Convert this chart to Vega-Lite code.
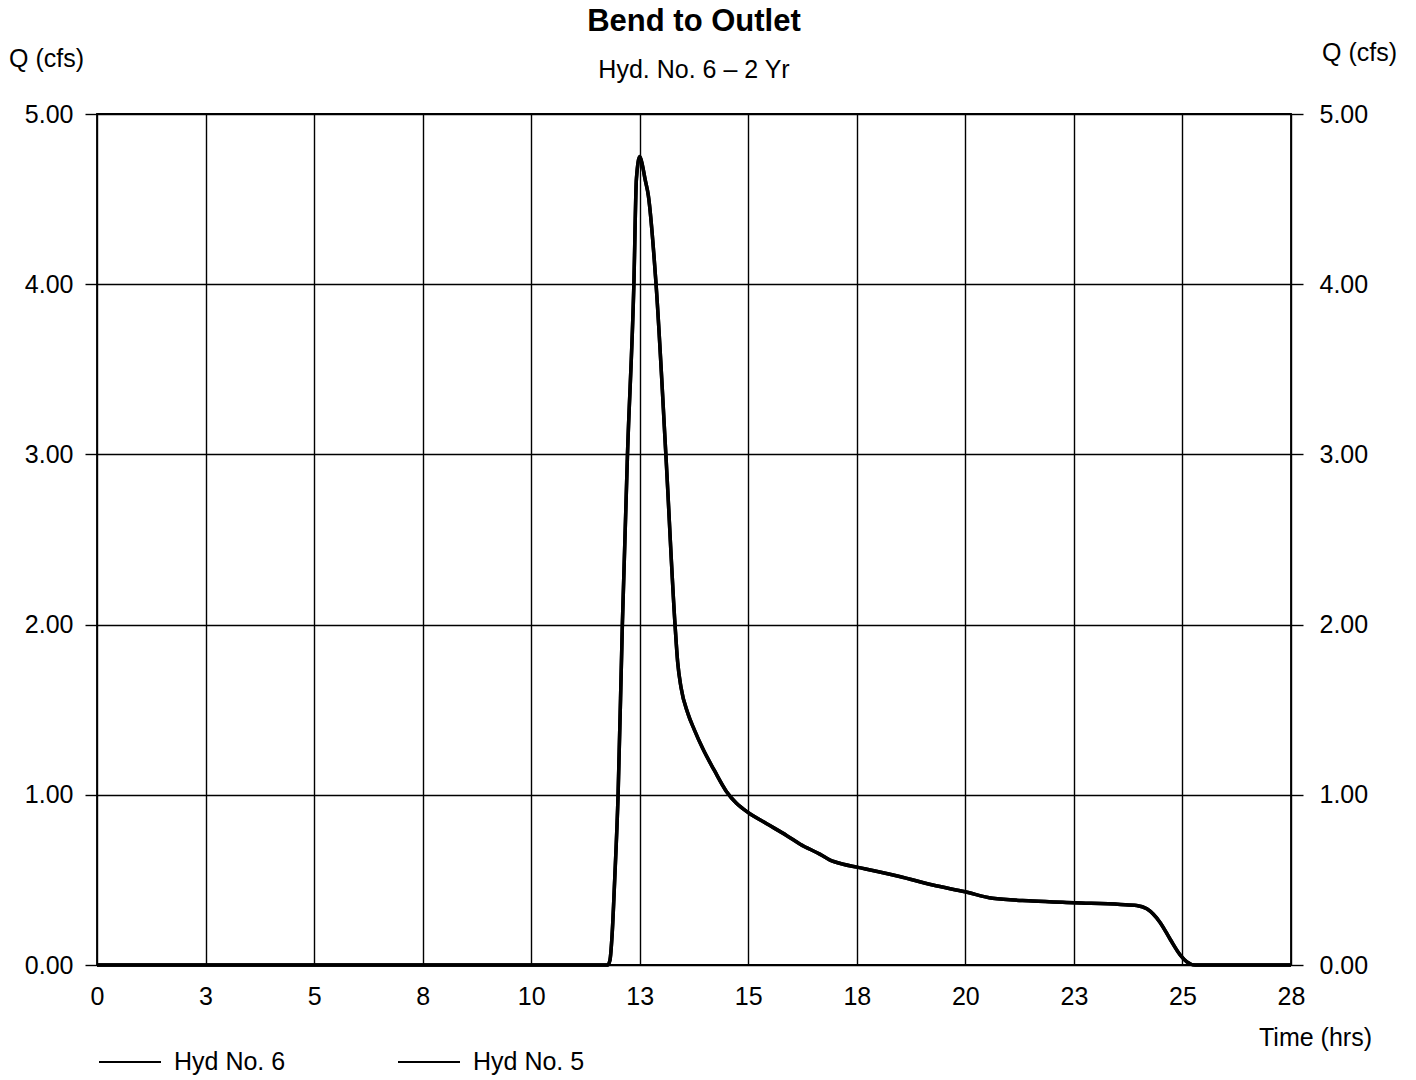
{
  "$schema": "https://vega.github.io/schema/vega-lite/v6.json",
  "width": 1194,
  "height": 851,
  "autosize": "none",
  "padding": {"left": 97, "top": 114, "right": 125, "bottom": 115},
  "background": "white",
  "config": {
    "font": "Liberation Sans",
    "view": {"stroke": "black", "strokeWidth": 1.8},
    "axis": {
      "labelColor": "black",
      "labelFontSize": 25,
      "labelFlush": false,
      "gridColor": "black",
      "gridOpacity": 1,
      "gridWidth": 1.4,
      "domain": false,
      "tickColor": "black",
      "tickWidth": 1.4,
      "titleColor": "black",
      "titleFontWeight": "normal",
      "titleFontSize": 25
    }
  },
  "title": {
    "text": "Bend to Outlet",
    "subtitle": "Hyd. No. 6 – 2 Yr",
    "anchor": "middle",
    "frame": "group",
    "fontSize": 31,
    "fontWeight": "bold",
    "color": "black",
    "subtitleFontSize": 25,
    "subtitleColor": "black",
    "subtitlePadding": 20,
    "offset": -44
  },
  "data": {
    "values": [
      {"t": 0, "h6": 0, "h5": 0},
      {"t": 2, "h6": 0, "h5": 0},
      {"t": 4, "h6": 0, "h5": 0},
      {"t": 6, "h6": 0, "h5": 0},
      {"t": 8, "h6": 0, "h5": 0},
      {"t": 10, "h6": 0, "h5": 0},
      {"t": 11, "h6": 0, "h5": 0},
      {"t": 11.98, "h6": 0, "h5": 0},
      {"t": 12.03, "h6": 0.03, "h5": 0.03},
      {"t": 12.08, "h6": 0.18, "h5": 0.18},
      {"t": 12.14, "h6": 0.5, "h5": 0.5},
      {"t": 12.22, "h6": 1.0, "h5": 1.0},
      {"t": 12.32, "h6": 2.0, "h5": 2.0},
      {"t": 12.44, "h6": 3.0, "h5": 3.0},
      {"t": 12.59, "h6": 4.0, "h5": 4.0},
      {"t": 12.65, "h6": 4.62, "h5": 4.62},
      {"t": 12.73, "h6": 4.75, "h5": 4.75},
      {"t": 12.79, "h6": 4.7, "h5": 4.7},
      {"t": 12.85, "h6": 4.62, "h5": 4.62},
      {"t": 12.93, "h6": 4.52, "h5": 4.52},
      {"t": 13.11, "h6": 4.0, "h5": 4.0},
      {"t": 13.34, "h6": 3.0, "h5": 3.0},
      {"t": 13.555, "h6": 2.0, "h5": 2.0},
      {"t": 13.617, "h6": 1.78, "h5": 1.78},
      {"t": 13.696, "h6": 1.63, "h5": 1.63},
      {"t": 13.854, "h6": 1.48, "h5": 1.48},
      {"t": 14.011, "h6": 1.38, "h5": 1.38},
      {"t": 14.208, "h6": 1.27, "h5": 1.27},
      {"t": 14.484, "h6": 1.14, "h5": 1.14},
      {"t": 14.76, "h6": 1.02, "h5": 1.02},
      {"t": 14.996, "h6": 0.95, "h5": 0.95},
      {"t": 15.273, "h6": 0.895, "h5": 0.895},
      {"t": 15.706, "h6": 0.83, "h5": 0.83},
      {"t": 16.178, "h6": 0.76, "h5": 0.76},
      {"t": 16.49, "h6": 0.71, "h5": 0.71},
      {"t": 16.96, "h6": 0.65, "h5": 0.65},
      {"t": 17.18, "h6": 0.618, "h5": 0.618},
      {"t": 17.5, "h6": 0.592, "h5": 0.592},
      {"t": 17.82, "h6": 0.575, "h5": 0.575},
      {"t": 18.82, "h6": 0.52, "h5": 0.52},
      {"t": 19.6, "h6": 0.47, "h5": 0.47},
      {"t": 20.36, "h6": 0.43, "h5": 0.43},
      {"t": 21.0, "h6": 0.392, "h5": 0.392},
      {"t": 21.94, "h6": 0.376, "h5": 0.376},
      {"t": 22.91, "h6": 0.366, "h5": 0.366},
      {"t": 24.0, "h6": 0.356, "h5": 0.356},
      {"t": 24.38, "h6": 0.35, "h5": 0.35},
      {"t": 24.62, "h6": 0.33, "h5": 0.33},
      {"t": 24.93, "h6": 0.25, "h5": 0.25},
      {"t": 25.17, "h6": 0.15, "h5": 0.15},
      {"t": 25.4, "h6": 0.06, "h5": 0.06},
      {"t": 25.55, "h6": 0.02, "h5": 0.02},
      {"t": 25.75, "h6": 0, "h5": 0},
      {"t": 28, "h6": 0, "h5": 0}
    ]
  },
  "layer": [
    {
      "mark": {"type": "line", "interpolate": "monotone", "strokeWidth": 3.5},
      "encoding": {
        "x": {
          "field": "t",
          "type": "quantitative",
          "scale": {"domain": [0, 28], "nice": false, "zero": false},
          "axis": {
            "values": [0, 2.5454545, 5.0909091, 7.6363636, 10.1818182, 12.7272727, 15.2727273, 17.8181818, 20.3636364, 22.9090909, 25.4545455, 28],
            "labelExpr": "format(round(datum.value), 'd')",
            "grid": true,
            "ticks": false,
            "labelPadding": 19,
            "title": "Time (hrs)",
            "titleX": 1218,
            "titleY": 72,
            "titleAlign": "center",
            "titleBaseline": "middle"
          }
        },
        "y": {
          "field": "h6",
          "type": "quantitative",
          "scale": {"domain": [0, 5], "nice": false},
          "axis": {
            "orient": "left",
            "values": [0, 1, 2, 3, 4, 5],
            "format": ".2f",
            "grid": true,
            "tickSize": 12,
            "labelPadding": 12,
            "title": "Q (cfs)",
            "titleAngle": 0,
            "titleX": -51,
            "titleY": -56,
            "titleAlign": "center",
            "titleBaseline": "middle"
          }
        },
        "color": {
          "datum": "Hyd No. 6",
          "type": "nominal",
          "scale": {"domain": ["Hyd No. 6", "Hyd No. 5"], "range": ["black", "black"]},
          "legend": {
            "title": null,
            "orient": "none",
            "legendX": 1,
            "legendY": 916,
            "direction": "horizontal",
            "symbolType": "stroke",
            "symbolSize": 3844,
            "symbolStrokeWidth": 2,
            "labelFontSize": 25,
            "labelColor": "black",
            "labelOffset": 12,
            "columnPadding": 108
          }
        }
      }
    },
    {
      "mark": {"type": "line", "interpolate": "monotone", "strokeWidth": 3.5},
      "encoding": {
        "x": {"field": "t", "type": "quantitative"},
        "y": {
          "field": "h5",
          "type": "quantitative",
          "axis": {
            "orient": "right",
            "values": [0, 1, 2, 3, 4, 5],
            "format": ".2f",
            "grid": false,
            "tickSize": 12,
            "labelPadding": 16,
            "title": "Q (cfs)",
            "titleAngle": 0,
            "titleX": 68,
            "titleY": -62,
            "titleAlign": "center",
            "titleBaseline": "middle"
          }
        },
        "color": {"datum": "Hyd No. 5", "type": "nominal"}
      }
    }
  ],
  "resolve": {"axis": {"y": "independent"}, "scale": {"y": "shared"}}
}
